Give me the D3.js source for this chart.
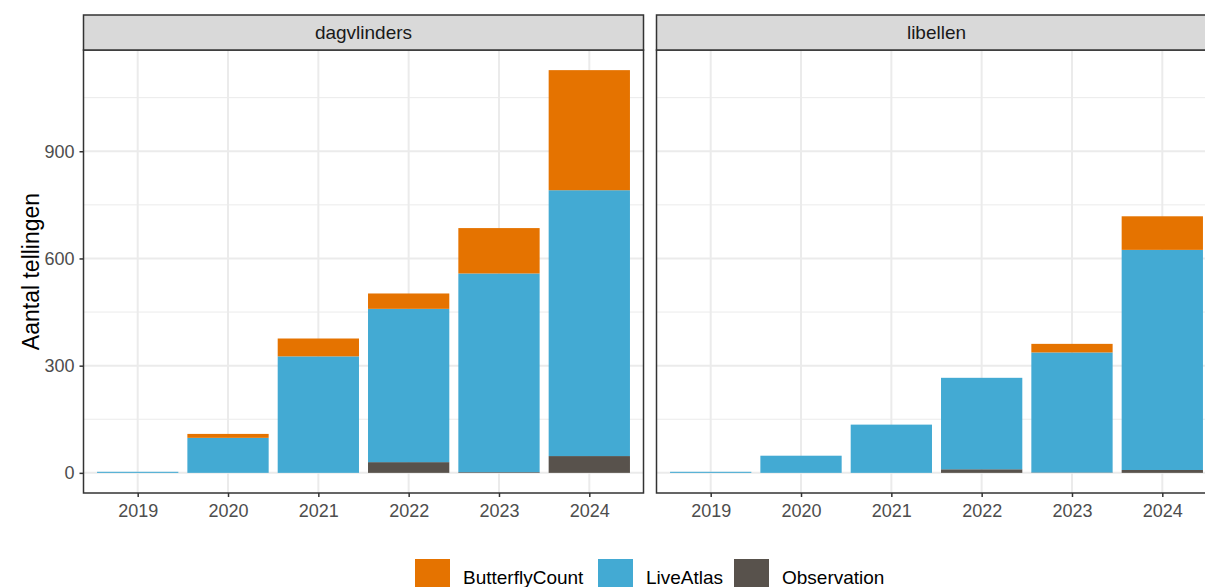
<!DOCTYPE html>
<html>
<head>
<meta charset="utf-8">
<script src="https://cdn.jsdelivr.net/npm/d3@7"></script>
<style>
  html, body { margin: 0; padding: 0; background: #fff; }
  svg { display: block; font-family: "Liberation Sans", Arial, sans-serif; }
</style>
</head>
<body>
<svg id="chart" width="1205" height="587"></svg>
<script>
// ---- data ----
const years = ["2019", "2020", "2021", "2022", "2023", "2024"];
const panels = ["dagvlinders", "libellen"];
const sources = ["ButterflyCount", "LiveAtlas", "Observation"];
const colors = ["#E57300", "#43AAD3", "#58524C"];
// values per panel, per source, per year
const dagvlindersButterflyCount = [0, 11, 50, 43, 127, 336];
const dagvlindersLiveAtlas      = [3, 98, 326, 429, 556, 744];
const dagvlindersObservation    = [0, 0, 0, 30, 2, 47];
const libellenButterflyCount    = [0, 0, 0, 0, 24, 94];
const libellenLiveAtlas         = [3, 48, 135, 256, 336, 616];
const libellenObservation       = [0, 0, 0, 10, 1, 8];
const yTicks = [0, 300, 600, 900];
const yMinor = [150, 450, 750, 1050];
const yTitle = "Aantal tellingen";

const panelData = {
  dagvlinders: { ButterflyCount: dagvlindersButterflyCount, LiveAtlas: dagvlindersLiveAtlas, Observation: dagvlindersObservation },
  libellen: { ButterflyCount: libellenButterflyCount, LiveAtlas: libellenLiveAtlas, Observation: libellenObservation }
};

// ---- layout ----
const svg = d3.select("#chart");
const panelW = 560, panelGap = 13;
const panelLeft0 = 83.5;
const stripTop = 15, stripH = 35;
const plotTop = stripTop + stripH, plotBottom = 493;
const FONT = "Liberation Sans, Arial, sans-serif";

const color = d3.scaleOrdinal().domain(sources).range(colors);

const rowsFor = p => years.map((yr, i) => {
  const r = { year: yr };
  sources.forEach(s => r[s] = panelData[p][s][i]);
  return r;
});
const maxTotal = d3.max(panels, p => d3.max(rowsFor(p), r => d3.sum(sources, s => r[s])));
const pad = maxTotal * 0.05;
const y = d3.scaleLinear().domain([-pad, maxTotal + pad]).range([plotBottom, plotTop]);

// stack order: Observation bottom, LiveAtlas, ButterflyCount top
const stack = d3.stack().keys(["Observation", "LiveAtlas", "ButterflyCount"]);

panels.forEach((p, pi) => {
  const x0 = panelLeft0 + pi * (panelW + panelGap);
  const step = panelW / 6.2;
  const xc = d3.scalePoint().domain(years).range([x0 + 0.6 * step, x0 + panelW - 0.6 * step]);
  const bw = 0.9 * step;

  const g = svg.append("g");
  g.append("rect").attr("x", x0).attr("y", plotTop).attr("width", panelW).attr("height", plotBottom - plotTop).attr("fill", "#fff");
  g.selectAll(".minor").data(yMinor).enter().append("line")
    .attr("x1", x0).attr("x2", x0 + panelW).attr("y1", d => y(d)).attr("y2", d => y(d))
    .attr("stroke", "#EBEBEB").attr("stroke-width", 1);
  g.selectAll(".major").data(yTicks).enter().append("line")
    .attr("x1", x0).attr("x2", x0 + panelW).attr("y1", d => y(d)).attr("y2", d => y(d))
    .attr("stroke", "#EBEBEB").attr("stroke-width", 2);
  g.selectAll(".vmajor").data(years).enter().append("line")
    .attr("x1", d => xc(d)).attr("x2", d => xc(d)).attr("y1", plotTop).attr("y2", plotBottom)
    .attr("stroke", "#EBEBEB").attr("stroke-width", 2);

  const series = stack(rowsFor(p));
  series.forEach(s => {
    g.selectAll(null).data(s).enter().append("rect")
      .attr("x", d => xc(d.data.year) - bw / 2)
      .attr("width", bw)
      .attr("y", d => y(d[1]))
      .attr("height", d => Math.max(0, y(d[0]) - y(d[1])))
      .attr("fill", color(s.key));
  });

  g.append("rect").attr("x", x0).attr("y", plotTop).attr("width", panelW).attr("height", plotBottom - plotTop)
    .attr("fill", "none").attr("stroke", "#333333").attr("stroke-width", 1.5);
  g.append("rect").attr("x", x0).attr("y", stripTop).attr("width", panelW).attr("height", stripH)
    .attr("fill", "#D9D9D9").attr("stroke", "#333333").attr("stroke-width", 1.5);
  g.append("text").attr("x", x0 + panelW / 2).attr("y", stripTop + stripH / 2).attr("dy", "0.35em")
    .attr("text-anchor", "middle").attr("fill", "#1A1A1A").attr("font-size", 19).attr("font-family", FONT).text(p);

  const xAxis = d3.axisBottom(xc).tickSize(4).tickPadding(7);
  const ax = g.append("g").attr("transform", `translate(0,${plotBottom})`).call(xAxis);
  ax.select(".domain").remove();
  ax.selectAll(".tick line").attr("stroke", "#333").attr("stroke-width", 1.5);
  ax.selectAll(".tick text").attr("fill", "#4D4D4D").attr("font-size", 18).attr("font-family", FONT);

  if (pi === 0) {
    const yAxis = d3.axisLeft(y).tickValues(yTicks).tickSize(4).tickPadding(5);
    const ay = g.append("g").attr("transform", `translate(${x0},0)`).call(yAxis);
    ay.select(".domain").remove();
    ay.selectAll(".tick line").attr("stroke", "#333").attr("stroke-width", 1.5);
    ay.selectAll(".tick text").attr("fill", "#4D4D4D").attr("font-size", 18).attr("font-family", FONT);
  }
});

svg.append("text").attr("transform", `translate(31,${(plotTop + plotBottom) / 2}) rotate(-90)`)
  .attr("text-anchor", "middle").attr("dy", "0.35em").attr("font-size", 23).attr("font-family", FONT)
  .attr("fill", "#000").text(yTitle);

const legendX = [415, 598, 734];
const lg = svg.append("g");
sources.forEach((s, i) => {
  lg.append("rect").attr("x", legendX[i]).attr("y", 559).attr("width", 35).attr("height", 35).attr("fill", color(s));
  lg.append("text").attr("x", legendX[i] + 48).attr("y", 577).attr("dy", "0.35em")
    .attr("font-size", 19).attr("font-family", FONT).attr("fill", "#000").text(s);
});
</script>
</body>
</html>
